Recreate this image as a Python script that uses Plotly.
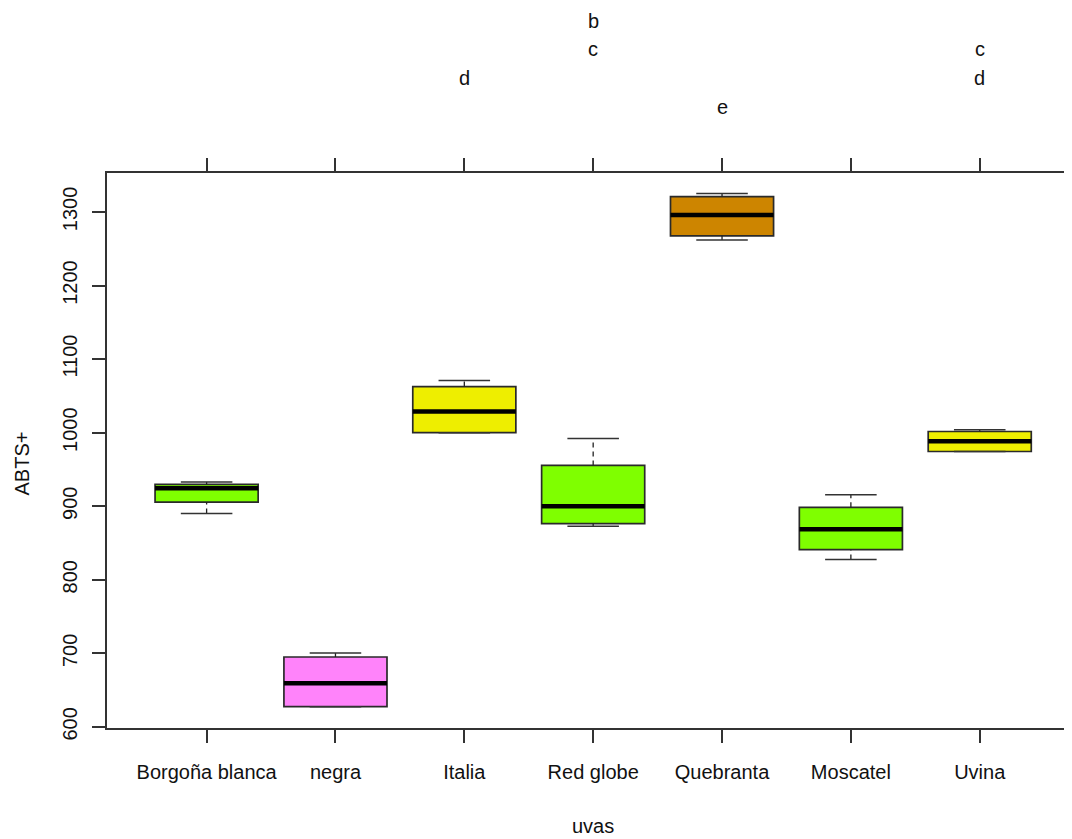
import plotly.graph_objects as go

categories = ["Borgoña blanca", "negra", "Italia", "Red globe", "Quebranta", "Moscatel", "Uvina"]
lower = [890, 627.5, 1000, 872.7, 1262, 827.5, 974.4]
q1 = [905.7, 627.5, 1000, 876.4, 1267.6, 841, 974.4]
median = [924.3, 659.3, 1028.8, 899.9, 1296, 868.7, 988.4]
q3 = [929.7, 695, 1062.7, 955.5, 1321, 898.5, 1001.6]
upper = [933, 700.4, 1070.8, 992, 1325, 915.7, 1003.8]
colors = ["#7FFF00", "#FF83FA", "#EEEE00", "#7FFF00", "#CD8500", "#7FFF00", "#EEEE00"]
letters = ["", "", "d", "bc", "e", "", "cd"]
y_ticks = [600, 700, 800, 900, 1000, 1100, 1200, 1300]

FONT = "Liberation Sans, Arial, sans-serif"
FS = 20
positions = list(range(1, len(categories) + 1))

fig = go.Figure()
for i, cat in enumerate(categories):
    p = positions[i]
    for a, b in ((q3[i], upper[i]), (lower[i], q1[i])):
        if b > a:
            fig.add_trace(go.Scatter(x=[p, p], y=[a, b], mode="lines",
                                     line=dict(color="#222", width=1.3, dash="5px,4px"),
                                     showlegend=False, hoverinfo="skip"))
    for v in (upper[i], lower[i]):
        fig.add_trace(go.Scatter(x=[p - 0.2, p + 0.2], y=[v, v], mode="lines",
                                 line=dict(color="#333", width=1.5),
                                 showlegend=False, hoverinfo="skip"))
    fig.add_trace(go.Box(x=[p], q1=[q1[i]], median=[median[i]], q3=[q3[i]],
                         lowerfence=[q1[i]], upperfence=[q3[i]], width=0.8,
                         fillcolor=colors[i], line=dict(color="#2a2a2a", width=1.7),
                         name=cat, showlegend=False, boxpoints=False))
    fig.add_trace(go.Scatter(x=[p - 0.4, p + 0.4], y=[median[i], median[i]], mode="lines",
                             line=dict(color="black", width=4.5),
                             showlegend=False, hoverinfo="skip"))
    for k, ch in enumerate(letters[i]):
        idx = "abcdefgh".index(ch)
        fig.add_annotation(x=p, y=1, xref="x", yref="paper", text=ch, showarrow=False,
                           yanchor="middle", yshift=181 - 28.7 * idx,
                           font=dict(family=FONT, size=FS, color="#111"))

fig.add_annotation(x=4, xref="x", y=0, yref="paper", text="uvas", showarrow=False,
                   yanchor="middle", yshift=-98, font=dict(family=FONT, size=FS, color="#111"))
fig.add_annotation(x=0, xref="paper", y=0.5, yref="paper", text="ABTS+", showarrow=False,
                   textangle=-90, xanchor="center", xshift=-86, yshift=-13,
                   font=dict(family=FONT, size=FS, color="#111"))

fig.update_xaxes(range=[0.227, 7.716], tickvals=positions, ticktext=categories,
                 ticks="outside", ticklen=13, tickwidth=1.5, tickcolor="#333",
                 showline=True, linecolor="#333", linewidth=1.5, mirror="ticks",
                 showgrid=False, zeroline=False, ticklabelstandoff=12,
                 tickfont=dict(family=FONT, size=FS, color="#111"))
fig.update_yaxes(range=[598.5, 1353], tickvals=y_ticks, tickangle=-90,
                 ticks="outside", ticklen=13, tickwidth=1.5, tickcolor="#333",
                 showline=True, linecolor="#333", linewidth=1.5, mirror=False,
                 showgrid=False, zeroline=False, ticklabelstandoff=7,
                 tickfont=dict(family=FONT, size=FS, color="#111"))

fig.update_layout(width=1064, height=831, plot_bgcolor="white", paper_bgcolor="white",
                  margin=dict(l=99, r=0, t=165, b=111), showlegend=False)

fig.write_html("out.html")
